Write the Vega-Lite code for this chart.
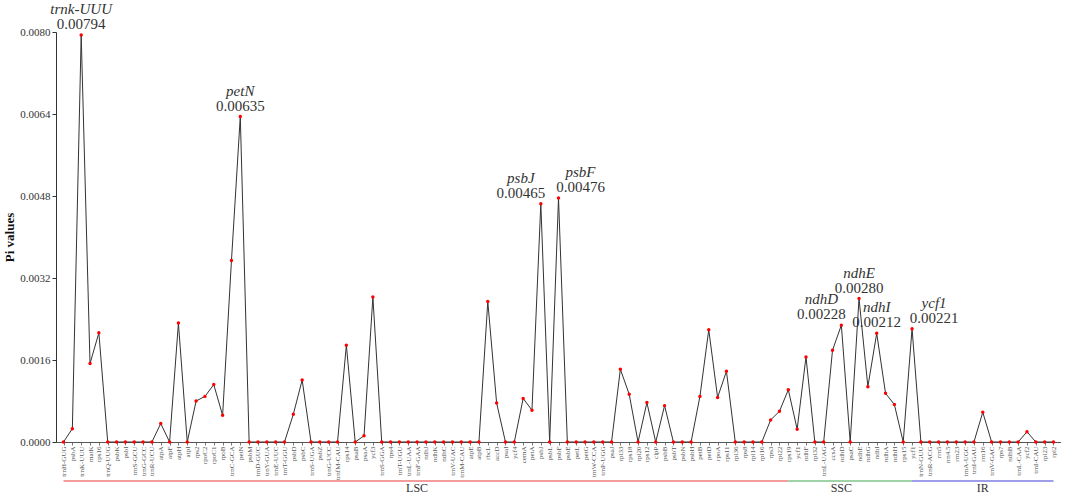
{
  "$schema": "https://vega.github.io/schema/vega-lite/v6.json",
  "padding": {"left": 3, "top": 2, "right": 0, "bottom": 0},
  "background": "white",
  "config": {"font": "Liberation Serif", "view": {"stroke": null}},
  "spacing": 0,
  "resolve": {"scale": {"x": "independent"}},
  "datasets": {
    "genes": [
      {"gene": "trnH-GUG", "pi": 0},
      {"gene": "psbA", "pi": 0.00026},
      {"gene": "trnK-UUU", "pi": 0.00794, "note": "trnk-UUU"},
      {"gene": "matK", "pi": 0.00153},
      {"gene": "rps16", "pi": 0.00213},
      {"gene": "trnQ-UUG", "pi": 0},
      {"gene": "psbK", "pi": 0},
      {"gene": "psbI", "pi": 0},
      {"gene": "trnS-GCU", "pi": 0},
      {"gene": "trnG-GCC", "pi": 0},
      {"gene": "trnR-UCU", "pi": 0},
      {"gene": "atpA", "pi": 0.00036},
      {"gene": "atpF", "pi": 0},
      {"gene": "atpH", "pi": 0.00232},
      {"gene": "atpI", "pi": 0},
      {"gene": "rps2", "pi": 0.0008},
      {"gene": "rpoC2", "pi": 0.00089},
      {"gene": "rpoC1", "pi": 0.00112},
      {"gene": "rpoB", "pi": 0.00052},
      {"gene": "trnC-GCA", "pi": 0.00354},
      {"gene": "petN", "pi": 0.00635, "note": "petN"},
      {"gene": "psbM", "pi": 0},
      {"gene": "trnD-GUC", "pi": 0},
      {"gene": "trnY-GUA", "pi": 0},
      {"gene": "trnE-UUC", "pi": 0},
      {"gene": "trnT-GGU", "pi": 0},
      {"gene": "psbD", "pi": 0.00054},
      {"gene": "psbC", "pi": 0.00121},
      {"gene": "trnS-UGA", "pi": 0},
      {"gene": "psbZ", "pi": 0},
      {"gene": "trnG-UCC", "pi": 0},
      {"gene": "trnfM-CAU", "pi": 0},
      {"gene": "rps14", "pi": 0.00189},
      {"gene": "psaB", "pi": 0},
      {"gene": "psaA", "pi": 0.00012},
      {"gene": "ycf3", "pi": 0.00283},
      {"gene": "trnS-GGA", "pi": 0},
      {"gene": "rps4", "pi": 0},
      {"gene": "trnT-UGU", "pi": 0},
      {"gene": "trnL-UAA", "pi": 0},
      {"gene": "trnF-GAA", "pi": 0},
      {"gene": "ndhJ", "pi": 0},
      {"gene": "ndhK", "pi": 0},
      {"gene": "ndhC", "pi": 0},
      {"gene": "trnV-UAC", "pi": 0},
      {"gene": "trnM-CAU", "pi": 0},
      {"gene": "atpE", "pi": 0},
      {"gene": "atpB", "pi": 0},
      {"gene": "rbcL", "pi": 0.00274},
      {"gene": "accD", "pi": 0.00076},
      {"gene": "psaI", "pi": 0},
      {"gene": "ycf4", "pi": 0},
      {"gene": "cemA", "pi": 0.00085},
      {"gene": "petA", "pi": 0.00062},
      {"gene": "psbJ", "pi": 0.00465, "note": "psbJ"},
      {"gene": "psbL", "pi": 0},
      {"gene": "psbF", "pi": 0.00476, "note": "psbF"},
      {"gene": "psbE", "pi": 0},
      {"gene": "petL", "pi": 0},
      {"gene": "petG", "pi": 0},
      {"gene": "trnW-CCA", "pi": 0},
      {"gene": "trnP-UGG", "pi": 0},
      {"gene": "psaJ", "pi": 0},
      {"gene": "rpl33", "pi": 0.00142},
      {"gene": "rps18", "pi": 0.00093},
      {"gene": "rpl20", "pi": 0},
      {"gene": "rps12", "pi": 0.00077},
      {"gene": "clpP", "pi": 0},
      {"gene": "psbB", "pi": 0.00071},
      {"gene": "psbT", "pi": 0},
      {"gene": "psbN", "pi": 0},
      {"gene": "psbH", "pi": 0},
      {"gene": "petB", "pi": 0.00089},
      {"gene": "petD", "pi": 0.00219},
      {"gene": "rpoA", "pi": 0.00087},
      {"gene": "rps11", "pi": 0.00138},
      {"gene": "rpl36", "pi": 0},
      {"gene": "rps8", "pi": 0},
      {"gene": "rpl14", "pi": 0},
      {"gene": "rpl16", "pi": 0},
      {"gene": "rps3", "pi": 0.00043},
      {"gene": "rpl22", "pi": 0.0006},
      {"gene": "rps19", "pi": 0.00102},
      {"gene": " ycf1", "pi": 0.00025},
      {"gene": "ndhF", "pi": 0.00166},
      {"gene": "rpl32", "pi": 0},
      {"gene": "trnL-UAG", "pi": 0},
      {"gene": "ccsA", "pi": 0.00179},
      {"gene": "ndhD", "pi": 0.00228, "note": "ndhD"},
      {"gene": "psaC", "pi": 0},
      {"gene": "ndhE", "pi": 0.0028, "note": "ndhE"},
      {"gene": "ndhG", "pi": 0.00108},
      {"gene": "ndhI", "pi": 0.00212, "note": "ndhI"},
      {"gene": "ndhA", "pi": 0.00095},
      {"gene": "ndhH", "pi": 0.00073},
      {"gene": "rps15", "pi": 0},
      {"gene": "ycf1", "pi": 0.00221, "note": "ycf1"},
      {"gene": "trnN-GUU", "pi": 0},
      {"gene": "trnR-ACG", "pi": 0},
      {"gene": "rrn5", "pi": 0},
      {"gene": "rrn4.5", "pi": 0},
      {"gene": "rrn23", "pi": 0},
      {"gene": "trnA-UGC", "pi": 0},
      {"gene": "trnI-GAU", "pi": 0},
      {"gene": "rrn16", "pi": 0.00058},
      {"gene": "trnV-GAC", "pi": 0},
      {"gene": "rps7", "pi": 0},
      {"gene": "ndhB", "pi": 0},
      {"gene": "trnL-CAA", "pi": 0},
      {"gene": "ycf2", "pi": 0.0002},
      {"gene": "trnI-CAU", "pi": 0},
      {"gene": "rpl23", "pi": 0},
      {"gene": "rpl2", "pi": 0}
    ],
    "regions": [
      {"region": "LSC", "start": "trnH-GUG", "end": "rps19", "labelAt": "trnF-GAA"},
      {"region": "SSC", "start": "rps19", "end": "ycf1", "labelAt": "ndhD"},
      {"region": "IR", "start": "ycf1", "end": "rpl2", "labelAt": "rrn16"}
    ]
  },
  "vconcat": [
    {
      "width": 1005,
      "height": 410,
      "data": {"name": "genes"},
      "encoding": {
        "x": {
          "field": "gene", "type": "nominal", "sort": null,
          "scale": {"type": "point", "padding": 0.85},
          "axis": {"title": null, "labelAngle": -90, "labelAlign": "right", "labelBaseline": "middle",
                   "labelFontSize": 7, "labelColor": "#555", "labelPadding": 1, "tickSize": 3,
                   "tickColor": "#777", "domainColor": "#555", "labelOverlap": false, "labelBound": false, "labelFlush": false}
        },
        "y": {
          "field": "pi", "type": "quantitative",
          "scale": {"domain": [0, 0.008], "nice": false, "zero": true},
          "axis": {"title": "Pi values", "titleFontWeight": "bold", "titleFontSize": 13, "titleColor": "#111",
                   "values": [0, 0.0016, 0.0032, 0.0048, 0.0064, 0.008], "format": ".4f",
                   "labelFontSize": 11, "labelColor": "#333", "tickSize": 4, "grid": false,
                   "domainColor": "#333", "tickColor": "#333", "titlePadding": 3, "labelPadding": 2}
        }
      },
      "layer": [
        {"mark": {"type": "line", "color": "#333", "strokeWidth": 1}},
        {"mark": {"type": "circle", "color": "#ff0000", "size": 12, "opacity": 1}},
        {
          "transform": [{"filter": "datum.note && indexof(['psbJ','ndhD','psbF','ycf1'], datum.note) < 0"}],
          "layer": [
            {"mark": {"type": "text", "fontSize": 15, "fontStyle": "italic", "color": "#333", "baseline": "middle", "dy": -26},
             "encoding": {"text": {"field": "note"}}},
            {"mark": {"type": "text", "fontSize": 15, "color": "#333", "baseline": "middle", "dy": -11},
             "encoding": {"text": {"field": "pi", "format": ".5f"}}}
          ]
        },
        {
          "transform": [{"filter": "indexof(['psbJ','ndhD'], datum.note) >= 0"}],
          "layer": [
            {"mark": {"type": "text", "fontSize": 15, "fontStyle": "italic", "color": "#333", "baseline": "middle", "dy": -26, "dx": -20},
             "encoding": {"text": {"field": "note"}}},
            {"mark": {"type": "text", "fontSize": 15, "color": "#333", "baseline": "middle", "dy": -11, "dx": -20},
             "encoding": {"text": {"field": "pi", "format": ".5f"}}}
          ]
        },
        {
          "transform": [{"filter": "indexof(['psbF','ycf1'], datum.note) >= 0"}],
          "layer": [
            {"mark": {"type": "text", "fontSize": 15, "fontStyle": "italic", "color": "#333", "baseline": "middle", "dy": -26, "dx": 22},
             "encoding": {"text": {"field": "note"}}},
            {"mark": {"type": "text", "fontSize": 15, "color": "#333", "baseline": "middle", "dy": -11, "dx": 22},
             "encoding": {"text": {"field": "pi", "format": ".5f"}}}
          ]
        }
      ]
    },
    {
      "width": 1005,
      "height": 2,
      "data": {"name": "regions"},
      "layer": [
        {
          "mark": {"type": "rule", "strokeWidth": 1.5},
          "encoding": {
            "x": {"field": "start", "type": "nominal",
                  "scale": {"type": "point", "padding": 0.85, "domain": ["trnH-GUG","psbA","trnK-UUU","matK","rps16","trnQ-UUG","psbK","psbI","trnS-GCU","trnG-GCC","trnR-UCU","atpA","atpF","atpH","atpI","rps2","rpoC2","rpoC1","rpoB","trnC-GCA","petN","psbM","trnD-GUC","trnY-GUA","trnE-UUC","trnT-GGU","psbD","psbC","trnS-UGA","psbZ","trnG-UCC","trnfM-CAU","rps14","psaB","psaA","ycf3","trnS-GGA","rps4","trnT-UGU","trnL-UAA","trnF-GAA","ndhJ","ndhK","ndhC","trnV-UAC","trnM-CAU","atpE","atpB","rbcL","accD","psaI","ycf4","cemA","petA","psbJ","psbL","psbF","psbE","petL","petG","trnW-CCA","trnP-UGG","psaJ","rpl33","rps18","rpl20","rps12","clpP","psbB","psbT","psbN","psbH","petB","petD","rpoA","rps11","rpl36","rps8","rpl14","rpl16","rps3","rpl22","rps19"," ycf1","ndhF","rpl32","trnL-UAG","ccsA","ndhD","psaC","ndhE","ndhG","ndhI","ndhA","ndhH","rps15","ycf1","trnN-GUU","trnR-ACG","rrn5","rrn4.5","rrn23","trnA-UGC","trnI-GAU","rrn16","trnV-GAC","rps7","ndhB","trnL-CAA","ycf2","trnI-CAU","rpl23","rpl2"]},
                  "axis": null},
            "x2": {"field": "end"},
            "color": {"field": "region", "type": "nominal",
                      "scale": {"domain": ["LSC", "SSC", "IR"], "range": ["#f07a7a", "#7cc48a", "#7c7ce0"]},
                      "legend": null}
          }
        },
        {
          "mark": {"type": "text", "baseline": "top", "dy": 2, "fontSize": 12, "color": "#333"},
          "encoding": {
            "x": {"field": "labelAt", "type": "nominal",
                  "scale": {"type": "point", "padding": 0.85, "domain": ["trnH-GUG","psbA","trnK-UUU","matK","rps16","trnQ-UUG","psbK","psbI","trnS-GCU","trnG-GCC","trnR-UCU","atpA","atpF","atpH","atpI","rps2","rpoC2","rpoC1","rpoB","trnC-GCA","petN","psbM","trnD-GUC","trnY-GUA","trnE-UUC","trnT-GGU","psbD","psbC","trnS-UGA","psbZ","trnG-UCC","trnfM-CAU","rps14","psaB","psaA","ycf3","trnS-GGA","rps4","trnT-UGU","trnL-UAA","trnF-GAA","ndhJ","ndhK","ndhC","trnV-UAC","trnM-CAU","atpE","atpB","rbcL","accD","psaI","ycf4","cemA","petA","psbJ","psbL","psbF","psbE","petL","petG","trnW-CCA","trnP-UGG","psaJ","rpl33","rps18","rpl20","rps12","clpP","psbB","psbT","psbN","psbH","petB","petD","rpoA","rps11","rpl36","rps8","rpl14","rpl16","rps3","rpl22","rps19"," ycf1","ndhF","rpl32","trnL-UAG","ccsA","ndhD","psaC","ndhE","ndhG","ndhI","ndhA","ndhH","rps15","ycf1","trnN-GUU","trnR-ACG","rrn5","rrn4.5","rrn23","trnA-UGC","trnI-GAU","rrn16","trnV-GAC","rps7","ndhB","trnL-CAA","ycf2","trnI-CAU","rpl23","rpl2"]},
                  "axis": null},
            "text": {"field": "region"}
          }
        }
      ]
    }
  ]
}
